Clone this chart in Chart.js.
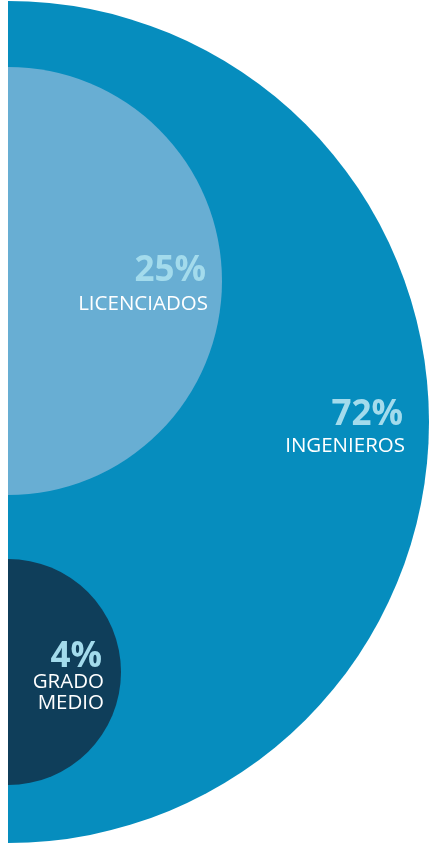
<!DOCTYPE html>
<html>
<head>
<meta charset="utf-8">
<script src="https://cdn.jsdelivr.net/npm/chart.js"></script>
<style>
  html, body { margin: 0; padding: 0; background: #ffffff; }
  #wrap { position: relative; width: 430px; height: 848px; }
</style>
</head>
<body>
<div id="wrap"><canvas id="c" width="430" height="848"></canvas></div>
<script>
// ---- data ----
const categories = ['INGENIEROS', 'LICENCIADOS', 'GRADO MEDIO'];
const values = [72, 25, 4];
const labelLines = [['INGENIEROS'], ['LICENCIADOS'], ['GRADO', 'MEDIO']];

// ---- layout (x scale spans 422 units over 422 px, so bubble r units = px) ----
const centerY = [422, 281, 672];
const radii = [421, 214, 113];
const colors = ['#068dbe', '#68aed3', '#0f3e5a'];
const pctColor = '#a3dbec';
const labelStyle = [
  { inset: 26, pct: 3, lab: 30, lh: 20, pctSize: 35, labSize: 20.5 },
  { inset: 16, pct: 0, lab: 29, lh: 20, pctSize: 35, labSize: 20.5 },
  { inset: 19, pct: -5, lab: 16, lh: 21, pctSize: 35, labSize: 20.5 }
];

const points = values.map((v, i) => ({ x: 0, y: centerY[i], r: radii[i] }));

const labelPlugin = {
  id: 'circleLabels',
  afterDatasetsDraw(chart) {
    const ctx = chart.ctx;
    const meta = chart.getDatasetMeta(0);
    ctx.save();
    ctx.textAlign = 'right';
    ctx.textBaseline = 'alphabetic';
    meta.data.forEach((el, i) => {
      const r = el.options.radius;
      const st = labelStyle[i];
      const xr = el.x + r - st.inset;
      ctx.fillStyle = pctColor;
      ctx.font = `bold ${st.pctSize}px "Open Sans", sans-serif`;
      ctx.fillText(values[i] + '%', xr, el.y + st.pct);
      ctx.fillStyle = '#ffffff';
      ctx.font = `${st.labSize}px "Open Sans", sans-serif`;
      labelLines[i].forEach((line, k) => {
        ctx.fillText(line, xr + 2, el.y + st.lab + k * st.lh);
      });
    });
    ctx.restore();
  }
};

new Chart(document.getElementById('c'), {
  type: 'bubble',
  data: {
    labels: categories,
    datasets: [{
      data: points,
      backgroundColor: colors,
      hoverBackgroundColor: colors,
      borderWidth: 0,
      hoverBorderWidth: 0,
      hoverRadius: 0,
      clip: 0
    }]
  },
  options: {
    responsive: false,
    animation: false,
    events: [],
    layout: { autoPadding: false, padding: { left: 8, right: 0, top: 0, bottom: 0 } },
    scales: {
      x: { type: 'linear', min: 0, max: 422, display: false },
      y: { type: 'linear', min: 0, max: 848, reverse: true, display: false }
    },
    plugins: { legend: { display: false }, tooltip: { enabled: false } }
  },
  plugins: [labelPlugin]
});
</script>
</body>
</html>
